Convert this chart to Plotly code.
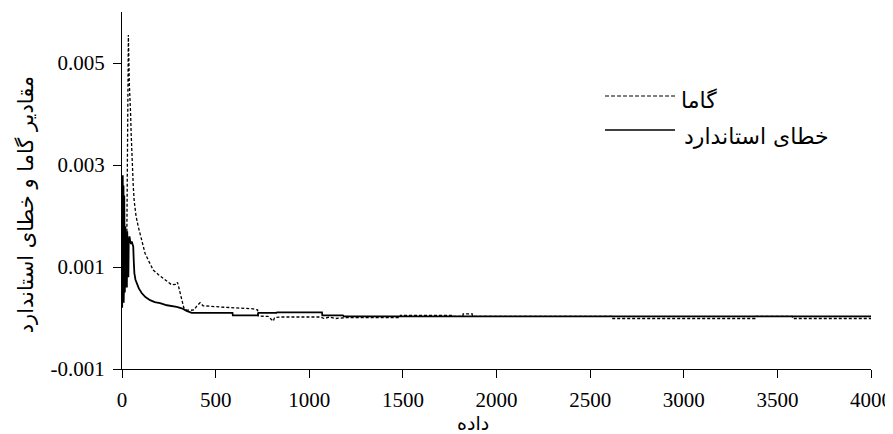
import plotly.graph_objects as go

# ---- data ----
gamma_x = [25, 28, 31, 34, 39, 44, 46, 49, 52, 54,
           57, 60, 65, 75, 87, 105, 123, 145, 167, 195,
           221, 245, 265, 290, 296, 302, 310, 319, 325, 330,
           345, 365, 385, 400, 417, 433, 550, 700, 724, 728,
           780, 808, 815, 845, 1057, 1080, 1110, 1140, 1200, 1485,
           1487, 1760, 1762, 1820, 1822, 1870, 1872, 2615, 2617, 3380,
           3382, 3580, 3582, 4000]
gamma_y = [0.0012, 0.0030, 0.0048, 0.00555, 0.0046, 0.0043, 0.0040, 0.0036, 0.0033, 0.0030,
           0.00265, 0.0026, 0.0023, 0.0020, 0.00179, 0.0015, 0.00127, 0.0011, 0.00094, 0.00085,
           0.00078, 0.0007, 0.00065, 0.00066, 0.0007, 0.00062, 0.00049, 0.00032, 0.00022, 0.0002,
           0.00016, 0.00015, 0.00016, 0.00024, 0.0003, 0.00024, 0.00021, 0.00018, 0.00016, 0.00004,
           0.00003, -0.00006, 0.00001, 0.00002, 0.00002, -0.00001, 0.00002, -0.00001, 0.00001, 0.00001,
           0.00005, 0.00005, 0.00003, 0.00003, 0.00008, 0.00008, 0.00003, 0.00003, -0.00001, -0.00001,
           0.00003, 0.00003, -0.00001, -0.00001]

se_x = [1, 2, 3, 4, 5, 6, 7, 8, 9, 10,
        11, 12, 13, 14, 15, 16, 17, 18, 19, 20,
        22, 24, 26, 28, 30, 32, 34, 36,
        40, 44, 48, 52, 56, 60, 63, 66, 72, 78,
        90, 105, 125, 150, 175, 203, 240, 292, 319, 345,
        372, 590, 592, 725, 728, 825, 828, 1068, 1070, 1180,
        1185, 4000]
se_y = [0.0002, 0.0027, 0.0012, 0.0028, 0.0004, 0.0022, 0.0009, 0.0026, 0.0003, 0.0019,
        0.0007, 0.0024, 0.0011, 0.0017, 0.0005, 0.0020, 0.0008, 0.0018, 0.0006, 0.0017,
        0.0009, 0.0016, 0.0006, 0.0017, 0.0010, 0.0016, 0.0008, 0.0015,
        0.0016, 0.0015, 0.00145, 0.0015, 0.0014, 0.0014, 0.0011, 0.00088, 0.00075, 0.00068,
        0.00058, 0.00049, 0.00041, 0.00035, 0.00031, 0.00029, 0.00025, 0.00022, 0.00019, 0.00014,
        0.0001, 0.0001, 0.00005, 0.00005, 0.0001, 0.0001, 0.00011, 0.00011, 0.00005, 0.00005,
        0.00003, 0.00003]

y_ticks = [-0.001, 0.001, 0.003, 0.005]
y_tick_labels = ["-0.001", "0.001", "0.003", "0.005"]
x_ticks = [0, 500, 1000, 1500, 2000, 2500, 3000, 3500, 4000]

name_gamma = "گاما"
name_se = "خطای استاندارد"
title_x = "داده"
title_y = "مقادیر گاما و خطای استاندارد"

num_font = "Liberation Serif, Times New Roman, serif"
ar_font = "DejaVu Sans, Noto Sans, sans-serif"
ar_size = 22

fig = go.Figure()
fig.add_trace(go.Scatter(x=gamma_x, y=gamma_y, mode="lines", name=name_gamma,
                         line=dict(color="black", width=1.3, dash="3px,2px")))
fig.add_trace(go.Scatter(x=se_x, y=se_y, mode="lines", name=name_se,
                         line=dict(color="black", width=1.8)))

# the page body adds an 8px offset, so margins are compensated for it
fig.update_layout(
    width=893, height=434,
    margin=dict(l=114, r=30, t=4, b=73),
    paper_bgcolor="white", plot_bgcolor="white",
    showlegend=False,
    font=dict(family=num_font, size=21, color="black"),
)
fig.update_xaxes(range=[0, 4000], tickvals=x_ticks, ticks="outside", ticklen=8,
                 tickcolor="black", showline=True, linecolor="black", linewidth=1,
                 showgrid=False, zeroline=False, ticklabelstandoff=4,
                 tickfont=dict(family=num_font, size=21, color="black"))
fig.update_yaxes(range=[-0.001, 0.006], tickvals=y_ticks, ticktext=y_tick_labels,
                 ticks="outside", ticklen=8, tickcolor="black", showline=True,
                 linecolor="black", linewidth=1, showgrid=False, zeroline=False,
                 ticklabelstandoff=4,
                 tickfont=dict(family=num_font, size=21, color="black"))

# axis titles
fig.add_annotation(text=title_x, xref="paper", yref="paper", x=0.469, y=-0.151,
                   xanchor="center", yanchor="middle", showarrow=False,
                   font=dict(family=ar_font, size=19, color="black"))
fig.add_annotation(text=title_y, xref="paper", yref="paper", x=-0.128, y=0.459,
                   xanchor="center", yanchor="middle", showarrow=False, textangle=-90,
                   font=dict(family=ar_font, size=21, color="black"))

# legend (drawn manually to match the long sample lines)
fig.add_shape(type="line", xref="paper", yref="paper", x0=0.6449, x1=0.7383,
              y0=0.7647, y1=0.7647, line=dict(color="black", width=1.2, dash="4px,2px"))
fig.add_shape(type="line", xref="paper", yref="paper", x0=0.6449, x1=0.7383,
              y0=0.6695, y1=0.6695, line=dict(color="black", width=1.6))
fig.add_annotation(text=name_gamma, xref="paper", yref="paper", x=0.744, y=0.752,
                   xanchor="left", yanchor="middle", showarrow=False,
                   font=dict(family=ar_font, size=ar_size, color="black"))
fig.add_annotation(text=name_se, xref="paper", yref="paper", x=0.748, y=0.650,
                   xanchor="left", yanchor="middle", showarrow=False,
                   font=dict(family=ar_font, size=ar_size, color="black"))

fig.write_html("out.html")
